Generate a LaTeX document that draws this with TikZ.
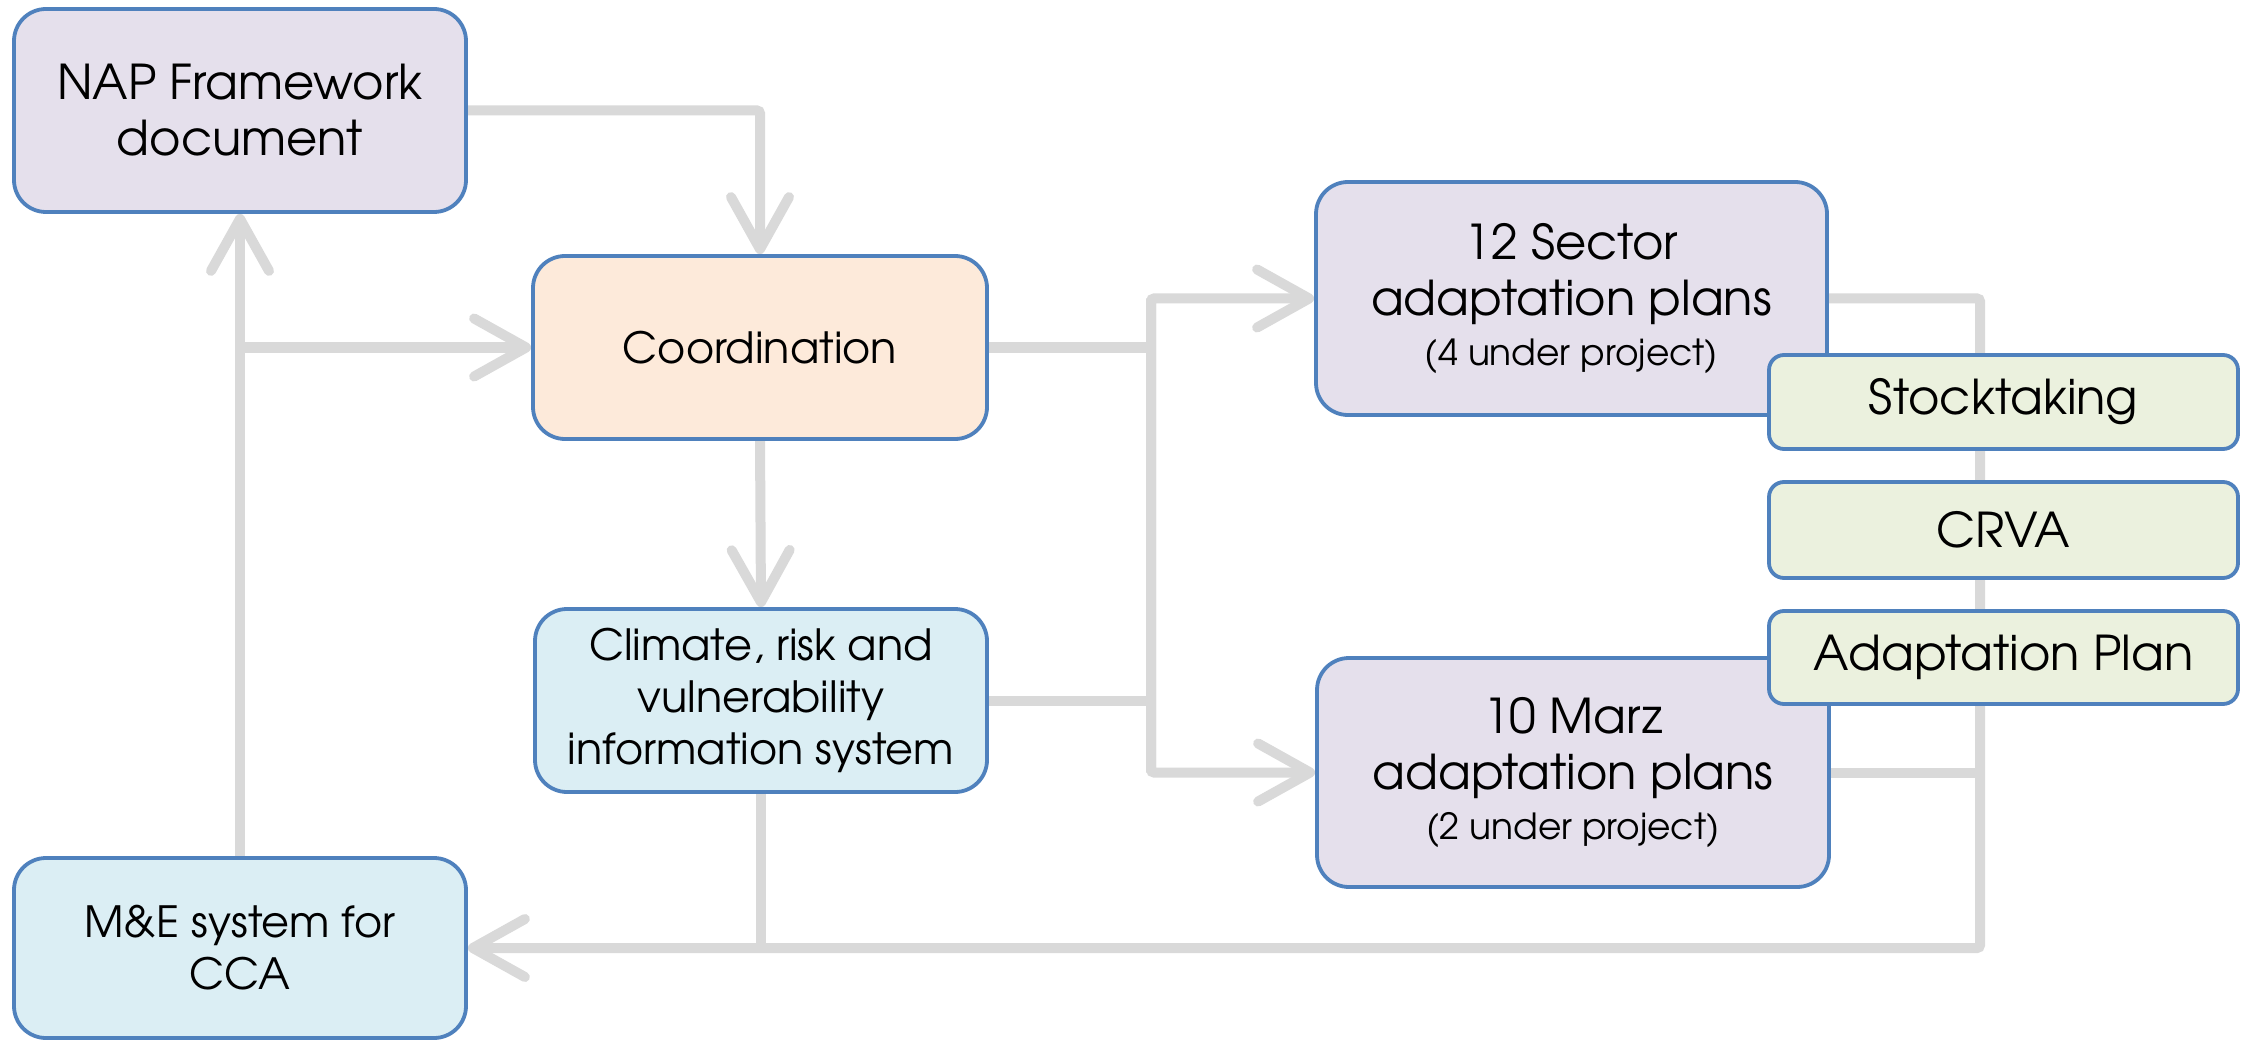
\documentclass[tikz,border=0pt]{standalone}
\usepackage{fontspec}
\setmainfont{texgyreadventor}[Extension=.otf, UprightFont=*-regular, BoldFont=*-bold]
\usetikzlibrary{arrows.meta,backgrounds}
\definecolor{lnk}{HTML}{D9D9D9}
\definecolor{bord}{HTML}{4F81BD}
\definecolor{purp}{HTML}{E5E0EC}
\definecolor{peach}{HTML}{FDEADA}
\definecolor{lblue}{HTML}{DBEEF4}
\definecolor{lgreen}{HTML}{EBF1DE}
\begin{document}
\begin{tikzpicture}[x=1pt,y=-1pt,
  box/.style={draw=bord, line width=3.8pt, rounded corners=32pt, align=center, inner sep=0pt, text=black},
  gbox/.style={draw=bord, line width=3.8pt, rounded corners=15pt, fill=lgreen, align=center,
    minimum width=469pt, inner sep=0pt, font=\fontsize{48}{56}\selectfont},
  link/.style={draw=lnk, line width=10pt, rounded corners=3pt},
  arr/.style={link, -{Straight Barb[length=52pt, width=58pt, round]}},
  big/.style={font=\fontsize{48}{56}\selectfont},
  mid/.style={font=\fontsize{43}{52}\selectfont},
]
\useasboundingbox (0,0) rectangle (2242,1040);
\node[box, big, fill=purp, minimum width=452pt, minimum height=203pt] (nap) at (240,110.5) {NAP Framework\\document};
\node[box, mid, fill=peach, minimum width=454pt, minimum height=183pt] (coord) at (760,347.5) {Coordination};
\node[box, mid, fill=lblue, minimum width=452pt, minimum height=183pt] (clim) at (761,700.5) {Climate, risk and\\vulnerability\\information system};
\node[box, mid, fill=lblue, minimum width=452pt, minimum height=180pt] (me) at (240,948) {M\&E system for\\CCA};
\node[box, big, fill=purp, minimum width=511pt, minimum height=233pt] (sec) at (1571.5,298.5) {12 Sector\\adaptation plans\\[-6pt]{\fontsize{36}{44}\selectfont (4 under project)}};
\node[box, big, fill=purp, minimum width=512pt, minimum height=229pt] (marz) at (1573,772.5) {10 Marz\\adaptation plans\\[-6pt]{\fontsize{36}{44}\selectfont (2 under project)}};
\node[gbox, minimum height=94pt] (stock) at (2003.5,402) {Stocktaking};
\node[gbox, minimum height=96pt] (crva) at (2003.5,530) {CRVA};
\node[gbox, minimum height=93pt] (adapt) at (2003.5,657.5) {Adaptation Plan};
\coordinate (bus) at (1151,0);
\coordinate (rb) at (1980,0);
\begin{scope}[on background layer]
  \fill[white] (0,0) rectangle (2242,1040);
  \draw[arr] (nap.east) -| (coord.north);
  \draw[arr] (me.north) -- (nap.south);
  \draw[arr] (nap.south |- coord.west) -- (coord.west);
  \draw[arr] (coord.south) -- (clim.north);
  \draw[link] (coord.east) -- (coord.east -| bus);
  \draw[link] (clim.east) -- (clim.east -| bus);
  \draw[arr] (bus |- marz.west) |- (sec.west);
  \draw[arr] (bus |- sec.west) |- (marz.west);
  \draw[arr] (sec.east) -| (rb |- me.east) -- (me.east);
  \draw[link] (marz.east) -- (marz.east -| rb);
  \draw[link] (clim.south) -- (clim.south |- me.east);
\end{scope}
\end{tikzpicture}
\end{document}
